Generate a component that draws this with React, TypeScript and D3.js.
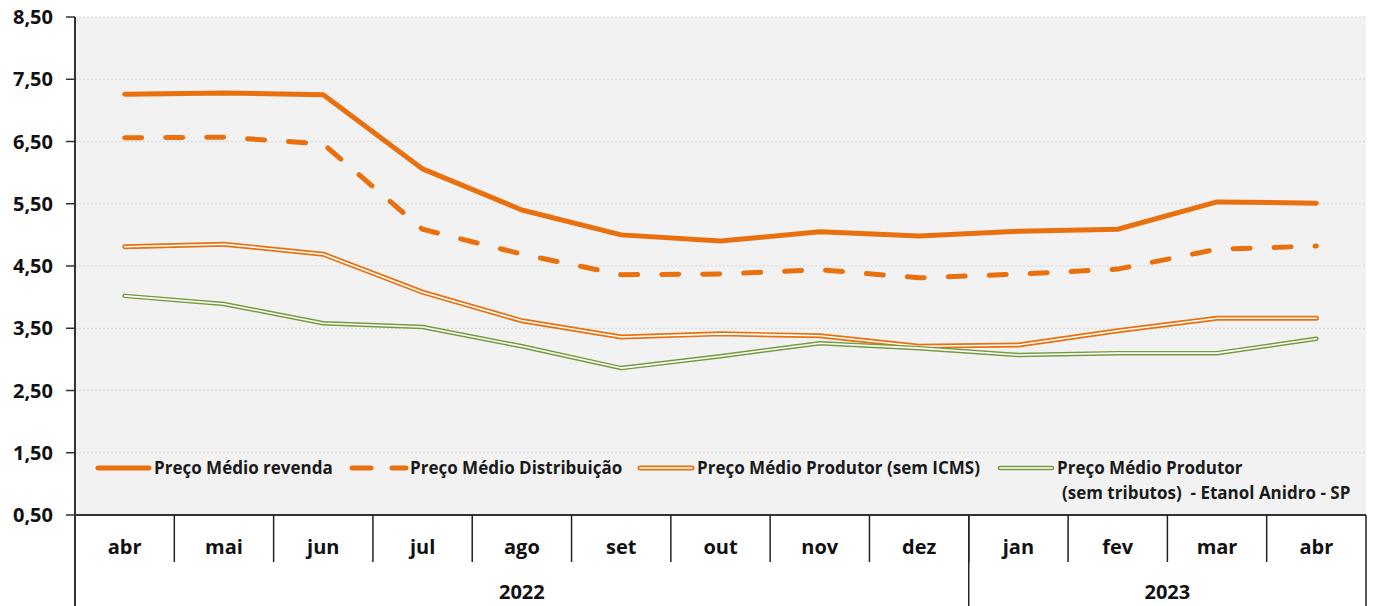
import * as d3 from "d3";

const months = ["abr", "mai", "jun", "jul", "ago", "set", "out", "nov", "dez", "jan", "fev", "mar", "abr"];
const years = [
  { label: "2022", from: 0, to: 8 },
  { label: "2023", from: 9, to: 12 },
];
const revenda = [7.26, 7.28, 7.25, 6.06, 5.4, 5.0, 4.9, 5.05, 4.98, 5.06, 5.09, 5.53, 5.51];
const distribuicao = [6.56, 6.57, 6.46, 5.09, 4.69, 4.36, 4.37, 4.44, 4.31, 4.37, 4.45, 4.77, 4.82];
const produtor = [4.81, 4.85, 4.69, 4.08, 3.62, 3.36, 3.41, 3.38, 3.21, 3.23, 3.46, 3.66, 3.66];
const anidro = [4.02, 3.89, 3.58, 3.52, 3.21, 2.86, 3.05, 3.26, 3.18, 3.07, 3.1, 3.1, 3.33];
const yTicks = [0.5, 1.5, 2.5, 3.5, 4.5, 5.5, 6.5, 7.5, 8.5];

const ORANGE = "#e8700e";
const GREEN = "#77993f";
const FONT = "'Open Sans', Lato, sans-serif";

export default function App() {
  const width = 1373;
  const height = 606;
  const left = 75;
  const right = 1366;
  const top = 17;
  const bottom = 515;

  const x = d3.scaleBand<number>().domain(months.map((_, i) => i)).range([left, right]).paddingInner(0);
  const bw = x.bandwidth();
  const cx = (i: number) => (x(i) ?? 0) + bw / 2;
  const y = d3.scaleLinear().domain([0.5, 8.5]).range([bottom, top]);

  const mk = d3
    .line<number>()
    .x((_, i) => cx(i))
    .y((v) => y(v));

  const fmt = (v: number) => v.toFixed(2).replace(".", ",");

  return (
    <svg width={width} height={height} style={{ position: "absolute", left: 0, top: 0 }} fontFamily={FONT}>
      <rect x={0} y={0} width={width} height={height} fill="#ffffff" />
      <rect x={left} y={top} width={right - left} height={bottom - top} fill="#f2f2f2" />

      {yTicks.slice(1).map((t) => (
        <line key={t} x1={left} x2={right} y1={y(t)} y2={y(t)} stroke="#d4d4d4" strokeWidth={1} strokeDasharray="2 2" />
      ))}

      {yTicks.map((t) => (
        <g key={"yt" + t}>
          <line x1={66} x2={left} y1={y(t)} y2={y(t)} stroke="#333" strokeWidth={1.5} />
          <text x={53} y={y(t)} dy="0.36em" textAnchor="end" fontSize={20} fontWeight={700} fill="#111">
            {fmt(t)}
          </text>
        </g>
      ))}

      {/* series */}
      <path d={mk(revenda) ?? ""} fill="none" stroke={ORANGE} strokeWidth={5} strokeLinecap="round" strokeLinejoin="round" />
      <path
        d={mk(distribuicao) ?? ""}
        fill="none"
        stroke={ORANGE}
        strokeWidth={5}
        strokeLinecap="round"
        strokeDasharray="17 24"
      />
      <path d={mk(produtor) ?? ""} fill="none" stroke={ORANGE} strokeWidth={5} strokeLinecap="round" strokeLinejoin="round" />
      <path d={mk(produtor) ?? ""} fill="none" stroke="#ffffff" strokeWidth={1.6} strokeLinecap="round" strokeLinejoin="round" />
      <path d={mk(anidro) ?? ""} fill="none" stroke={GREEN} strokeWidth={4.5} strokeLinecap="round" strokeLinejoin="round" />
      <path d={mk(anidro) ?? ""} fill="none" stroke="#ffffff" strokeWidth={1.6} strokeLinecap="round" strokeLinejoin="round" />

      {/* legend */}
      <g fontSize={17} fontWeight={700} fill="#1a1a1a">
        <line x1={98} x2={149} y1={468} y2={468} stroke={ORANGE} strokeWidth={5} strokeLinecap="round" />
        <text x={154} y={468} dy="0.36em">Preço Médio revenda</text>

        <line x1={352} x2={406} y1={468} y2={468} stroke={ORANGE} strokeWidth={5} strokeLinecap="round" strokeDasharray="19 21" />
        <text x={410} y={468} dy="0.36em">Preço Médio Distribuição</text>

        <line x1={640} x2={692} y1={468} y2={468} stroke={ORANGE} strokeWidth={5} strokeLinecap="round" />
        <line x1={640} x2={692} y1={468} y2={468} stroke="#fff" strokeWidth={1.6} strokeLinecap="round" />
        <text x={697} y={468} dy="0.36em">Preço Médio Produtor (sem ICMS)</text>

        <line x1={1000} x2={1052} y1={468} y2={468} stroke={GREEN} strokeWidth={4.5} strokeLinecap="round" />
        <line x1={1000} x2={1052} y1={468} y2={468} stroke="#fff" strokeWidth={1.6} strokeLinecap="round" />
        <text x={1057} y={468} dy="0.36em">Preço Médio Produtor</text>
        <text x={1062} y={493} dy="0.36em" xmlSpace="preserve">(sem tributos)  - Etanol Anidro - SP</text>
      </g>

      {/* axes */}
      <line x1={left} x2={left} y1={top} y2={height} stroke="#333" strokeWidth={2} />
      <line x1={left} x2={right} y1={bottom} y2={bottom} stroke="#333" strokeWidth={2} />

      {months.map((m, i) => (
        <g key={"m" + i}>
          {i > 0 && <line x1={x(i)} x2={x(i)} y1={bottom} y2={562} stroke="#222" strokeWidth={1.5} />}
          <text x={cx(i)} y={547} dy="0.36em" textAnchor="middle" fontSize={20} fontWeight={700} fill="#111">
            {m}
          </text>
        </g>
      ))}

      {years.map((yr) => {
        const x0 = x(yr.from) ?? 0;
        const x1 = (x(yr.to) ?? 0) + bw;
        return (
          <g key={yr.label}>
            <line x1={x1} x2={x1} y1={bottom} y2={height} stroke="#222" strokeWidth={1.5} />
            <text x={(x0 + x1) / 2} y={592} dy="0.36em" textAnchor="middle" fontSize={20} fontWeight={700} fill="#111">
              {yr.label}
            </text>
          </g>
        );
      })}
    </svg>
  );
}
